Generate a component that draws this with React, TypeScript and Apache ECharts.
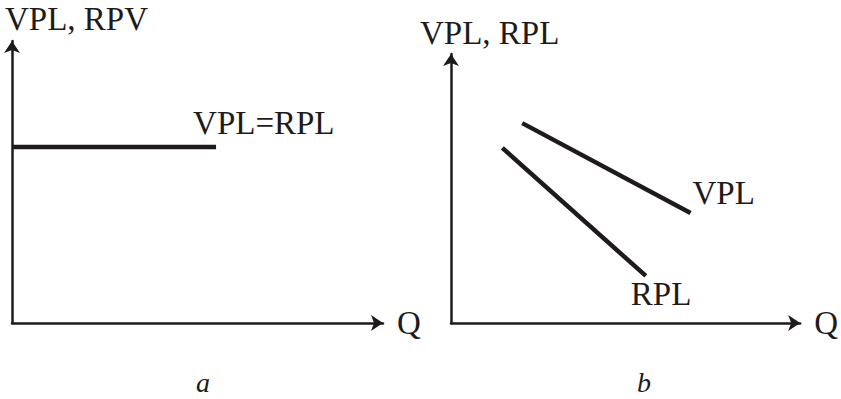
import React, { useEffect, useRef } from "react";
import * as echarts from "echarts";

// Panel a: flat VPL = RPL line
const flatLineQ = [0, 55];
const flatLineValue = [62.4, 62.4];
// Panel b: falling VPL and RPL lines
const vplQ = [20.4, 68.6];
const vplValue = [74.3, 40.9];
const rplQ = [14.7, 55.8];
const rplValue = [65.1, 17.5];

const titleA = "VPL, RPV";
const titleB = "VPL, RPL";
const labelA = "VPL=RPL";
const labelVPL = "VPL";
const labelRPL = "RPL";
const axisQ = "Q";
const captionA = "a";
const captionB = "b";

const FONT = "Liberation Serif";
const INK = "#1e1b1a";
const FS = 33;

function pairs(xs: number[], ys: number[]) {
  return xs.map((x, i) => [x, ys[i]]);
}

export default function App() {
  const ref = useRef<HTMLDivElement>(null);
  useEffect(() => {
    document.body.style.margin = "0";
    if (!ref.current) return;
    const chart = echarts.init(ref.current, null, { renderer: "svg" });
    const axisX = (gridIndex: number) => ({
      type: "value",
      gridIndex,
      min: 0,
      max: 100,
      axisLine: {
        show: true,
        symbol: ["none", "arrow"],
        symbolSize: [12, 12],
        lineStyle: { color: INK, width: 2.5 },
      },
      axisTick: { show: false },
      axisLabel: { show: false },
      splitLine: { show: false },
      name: axisQ,
      nameLocation: "end",
      nameGap: 14,
      nameTextStyle: { fontFamily: FONT, fontSize: FS, color: INK },
    });
    const axisY = (gridIndex: number) => ({
      type: "value",
      gridIndex,
      min: 0,
      max: 100,
      axisLine: {
        show: true,
        symbol: ["none", "arrow"],
        symbolSize: [12, 12],
        lineStyle: { color: INK, width: 2.5 },
      },
      axisTick: { show: false },
      axisLabel: { show: false },
      splitLine: { show: false },
    });
    const textStyle = { fontFamily: FONT, fontSize: FS, color: INK };
    chart.setOption({
      animation: false,
      backgroundColor: "#ffffff",
      grid: [
        { left: 12, top: 41, width: 371, height: 282 },
        { left: 451, top: 54, width: 353, height: 269 },
      ],
      xAxis: [axisX(0), axisX(1)],
      yAxis: [axisY(0), axisY(1)],
      series: [
        {
          type: "line",
          xAxisIndex: 0,
          yAxisIndex: 0,
          data: pairs(flatLineQ, flatLineValue),
          symbol: "none",
          lineStyle: { color: INK, width: 4.5 },
          endLabel: {
            show: true,
            formatter: labelA,
            offset: [-31, -24],
            ...textStyle,
          },
        },
        {
          type: "line",
          xAxisIndex: 1,
          yAxisIndex: 1,
          data: pairs(vplQ, vplValue),
          symbol: "none",
          lineStyle: { color: INK, width: 4.5 },
          endLabel: {
            show: true,
            formatter: labelVPL,
            offset: [-6, -20],
            ...textStyle,
          },
        },
        {
          type: "line",
          xAxisIndex: 1,
          yAxisIndex: 1,
          data: pairs(rplQ, rplValue),
          symbol: "none",
          lineStyle: { color: INK, width: 4.5 },
          endLabel: {
            show: true,
            formatter: labelRPL,
            offset: [-23, 18],
            ...textStyle,
          },
        },
      ],
      graphic: [
        {
          type: "text",
          left: 5,
          top: 2,
          style: { text: titleA, font: `${FS}px "${FONT}"`, fill: INK },
        },
        {
          type: "text",
          left: 420,
          top: 16,
          style: { text: titleB, font: `${FS}px "${FONT}"`, fill: INK },
        },
        {
          type: "text",
          left: 196,
          top: 368,
          style: {
            text: captionA,
            font: `italic 28px "${FONT}"`,
            lineHeight: 26,
            fill: INK,
          },
        },
        {
          type: "text",
          left: 637,
          top: 368,
          style: {
            text: captionB,
            font: `italic 28px "${FONT}"`,
            lineHeight: 26,
            fill: INK,
          },
        },
      ],
    });
    return () => chart.dispose();
  }, []);
  return <div ref={ref} style={{ width: 841, height: 399 }} />;
}
